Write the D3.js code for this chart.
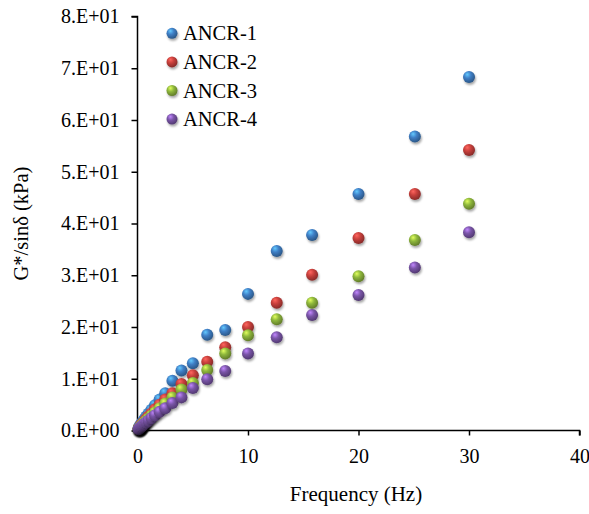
<!DOCTYPE html>
<html>
<head>
<meta charset="utf-8">
<script src="https://cdn.jsdelivr.net/npm/d3@7/dist/d3.min.js"></script>
<style>
  html, body { margin: 0; padding: 0; background: #fff; }
  svg { display: block; }
</style>
</head>
<body>
<svg id="chart" width="589" height="514"></svg>
<script>
// ---- data ----
const frequency = [0.1, 0.126, 0.158, 0.2, 0.251, 0.316, 0.398, 0.501, 0.631, 0.794,
                   1, 1.26, 1.58, 2, 2.51, 3.16, 3.98, 5.01, 6.31, 7.94,
                   10, 12.6, 15.8, 20, 25.1, 30];
const ancr1 = [0.41, 0.5, 0.62, 0.77, 0.95, 1.18, 1.45, 1.8, 2.2, 2.7,
               3.3, 4.0, 4.9, 6.0, 7.2, 9.6, 11.6, 13.0, 18.5, 19.4,
               26.4, 34.7, 37.8, 45.7, 56.8, 68.3];
const ancr2 = [0.32, 0.4, 0.5, 0.62, 0.77, 0.95, 1.18, 1.45, 1.8, 2.2,
               2.7, 3.3, 4.1, 5.0, 6.0, 7.2, 9.0, 10.7, 13.3, 16.1,
               20.0, 24.7, 30.1, 37.2, 45.7, 54.2];
const ancr3 = [0.28, 0.35, 0.43, 0.53, 0.66, 0.82, 1.0, 1.25, 1.55, 1.9,
               2.3, 2.85, 3.5, 4.3, 5.2, 6.4, 7.9, 9.2, 11.7, 14.9,
               18.4, 21.5, 24.7, 29.8, 36.8, 43.8];
const ancr4 = [0.24, 0.3, 0.37, 0.45, 0.56, 0.7, 0.85, 1.05, 1.3, 1.6,
               1.95, 2.4, 2.95, 3.6, 4.3, 5.3, 6.4, 8.2, 9.9, 11.5,
               14.9, 18.0, 22.3, 26.2, 31.5, 38.3];
const seriesNames = ["ANCR-1", "ANCR-2", "ANCR-3", "ANCR-4"];
const seriesColors = ["#3f7fc6", "#c8403c", "#8fb83c", "#7a55a8"];
const xTicks = [0, 10, 20, 30, 40];
const yTicks = [0, 10, 20, 30, 40, 50, 60, 70, 80];
const xTitle = "Frequency (Hz)";
const yTitle = "G*/sinδ (kPa)";

const seriesValues = [ancr1, ancr2, ancr3, ancr4];

// ---- layout ----
const FONT = '"Liberation Serif", "Times New Roman", Tinos';
const svg = d3.select("#chart");
const mLeft = 137.5, mRight = 579.5, mTop = 16.5, mBottom = 430.5;
const x = d3.scaleLinear().domain([0, 40]).range([mLeft, mRight]);
const y = d3.scaleLinear().domain([0, 80]).range([mBottom, mTop]);

// gradients & shadow
const defs = svg.append("defs");
seriesColors.forEach((c, i) => {
  const g = defs.append("radialGradient").attr("id", "ball" + i)
    .attr("cx", "40%").attr("cy", "35%").attr("r", "65%").attr("fx", "35%").attr("fy", "28%");
  const base = d3.color(c);
  g.append("stop").attr("offset", "0%").attr("stop-color", base.brighter(1.3).formatHex());
  g.append("stop").attr("offset", "45%").attr("stop-color", base.formatHex());
  g.append("stop").attr("offset", "100%").attr("stop-color", base.darker(1.1).formatHex());
});
const f = defs.append("filter").attr("id", "shadow").attr("x", "-50%").attr("y", "-50%")
  .attr("width", "200%").attr("height", "200%");
f.append("feDropShadow").attr("dx", 1).attr("dy", 2).attr("stdDeviation", 1.3)
  .attr("flood-color", "#000").attr("flood-opacity", 0.35);

// axes
const fmtY = v => v === 0 ? "0.E+00" : (v / 10) + ".E+01";
const yAxis = d3.axisLeft(y).tickValues(yTicks).tickFormat(fmtY).tickSize(6).tickPadding(12);
const xAxis = d3.axisBottom(x).tickValues(xTicks).tickFormat(d3.format("d")).tickSize(5).tickPadding(13);

const gy = svg.append("g").attr("transform", `translate(${mLeft},0)`).call(yAxis);
const gx = svg.append("g").attr("transform", `translate(0,${mBottom})`).call(xAxis);
[gx, gy].forEach(g => {
  g.attr("font-family", FONT).attr("font-size", 20);
  g.select(".domain").attr("stroke", "#000").attr("stroke-width", 1.5);
  g.selectAll(".tick line").attr("stroke", "#000").attr("stroke-width", 1.5);
  g.selectAll(".tick text").attr("font-family", FONT).attr("font-size", 20).attr("fill", "#000");
});
gy.select(".domain").attr("d", `M-6,${mTop}H0V${mBottom}`);
gx.select(".domain").attr("d", `M${mLeft},0H${mRight}V5`);
gx.selectAll(".tick").filter(d => d === 0).select("line").remove();

// points
seriesValues.forEach((vals, i) => {
  svg.append("g").selectAll("circle").data(frequency.map((fq, j) => [fq, vals[j]]))
    .join("circle")
    .attr("cx", d => x(d[0])).attr("cy", d => y(d[1])).attr("r", 6)
    .attr("fill", `url(#ball${i})`).attr("filter", "url(#shadow)");
});

// legend
const lg = svg.append("g");
seriesNames.forEach((n, i) => {
  const ly = 33.3 + i * 28.6;
  lg.append("circle").attr("cx", 172).attr("cy", ly).attr("r", 5.5)
    .attr("fill", `url(#ball${i})`).attr("filter", "url(#shadow)");
  lg.append("text").attr("x", 183).attr("y", ly + 7)
    .attr("font-family", FONT).attr("font-size", 20.5).attr("fill", "#000").text(n);
});

// titles
svg.append("text").attr("x", 356).attr("y", 501).attr("text-anchor", "middle")
  .attr("font-family", FONT).attr("font-size", 21).attr("fill", "#000").text(xTitle);
svg.append("text").attr("transform", `translate(28,${(mTop + mBottom) / 2}) rotate(-90)`)
  .attr("text-anchor", "middle")
  .attr("font-family", FONT).attr("font-size", 20.5).attr("fill", "#000").text(yTitle);
</script>
</body>
</html>
